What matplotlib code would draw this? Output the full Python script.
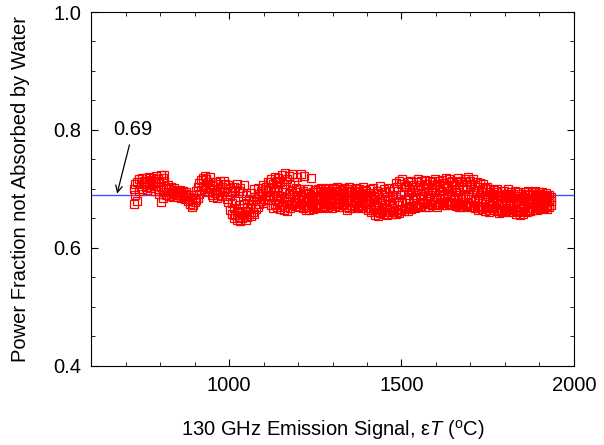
import matplotlib
matplotlib.use("Agg")
import matplotlib.pyplot as plt
from matplotlib.ticker import MultipleLocator, FormatStrFormatter

plt.rcParams['font.family'] = ['Liberation Sans', 'DejaVu Sans']
plt.rcParams['mathtext.fontset'] = 'custom'
plt.rcParams['mathtext.rm'] = 'Liberation Sans'
plt.rcParams['mathtext.it'] = 'Liberation Sans:italic'

# 130 GHz emission signal (deg C) and the power fractions read at each one
signal = [723, 727, 733, 738, 744, 748, 754, 759, 763, 769, 774, 779, 784, 788,
          794, 798, 803, 807, 812, 817, 822, 826, 832, 836, 841, 846, 851, 857,
          861, 866, 872, 876, 881, 886, 891, 895, 900, 905, 910, 914, 919, 924,
          929, 934, 939, 944, 949, 954, 959, 964, 969, 974, 979, 984, 989, 994,
          998, 1003, 1008, 1013, 1018, 1023, 1028, 1033, 1038, 1043, 1048, 1053,
          1058, 1063, 1068, 1073, 1078, 1083, 1088, 1093, 1098, 1103, 1108, 1113,
          1118, 1123, 1128, 1133, 1138, 1143, 1148, 1153, 1158, 1163, 1168, 1173,
          1178, 1183, 1188, 1193, 1198, 1203, 1208, 1213, 1218, 1223, 1228, 1233,
          1238, 1243, 1248, 1253, 1258, 1263, 1268, 1273, 1278, 1283, 1288, 1293,
          1298, 1303, 1308, 1313, 1318, 1323, 1328, 1333, 1338, 1343, 1348, 1353,
          1358, 1363, 1368, 1373, 1378, 1383, 1388, 1393, 1398, 1403, 1408, 1413,
          1418, 1423, 1428, 1433, 1438, 1443, 1448, 1453, 1458, 1463, 1468, 1473,
          1478, 1483, 1488, 1493, 1498, 1503, 1508, 1513, 1518, 1523, 1528, 1533,
          1538, 1543, 1548, 1553, 1558, 1563, 1568, 1573, 1578, 1583, 1588, 1593,
          1598, 1603, 1608, 1613, 1618, 1623, 1628, 1633, 1638, 1643, 1648, 1653,
          1658, 1663, 1668, 1673, 1678, 1683, 1688, 1693, 1698, 1703, 1708, 1713,
          1718, 1723, 1728, 1733, 1738, 1743, 1748, 1753, 1758, 1763, 1768, 1773,
          1778, 1783, 1788, 1793, 1798, 1803, 1808, 1813, 1818, 1823, 1828, 1833,
          1838, 1843, 1848, 1853, 1858, 1863, 1868, 1873, 1878, 1883, 1888, 1893,
          1898, 1903, 1908, 1913, 1918, 1923, 1928, 1933]
fraction = [
    [0.674, 0.700], [0.690, 0.708], [0.680, 0.712], [0.697, 0.716],
    [0.705, 0.712], [0.700, 0.718], [0.709, 0.714], [0.703, 0.719],
    [0.698, 0.711], [0.706, 0.721], [0.701, 0.715], [0.709, 0.718],
    [0.697, 0.713], [0.705, 0.722], [0.700, 0.716], [0.692, 0.711],
    [0.678, 0.704, 0.724], [0.684, 0.699, 0.718], [0.695, 0.713, 0.724],
    [0.690, 0.702], [0.694, 0.706], [0.688, 0.699], [0.692, 0.703],
    [0.687, 0.698], [0.693, 0.701], [0.689, 0.697], [0.686, 0.695],
    [0.690, 0.698], [0.684, 0.693], [0.688, 0.696], [0.683, 0.692],
    [0.686, 0.694], [0.679, 0.690], [0.674, 0.686], [0.669, 0.681],
    [0.673, 0.690], [0.677, 0.685], [0.681, 0.696], [0.685, 0.703],
    [0.692, 0.710], [0.698, 0.715], [0.704, 0.719], [0.700, 0.722],
    [0.707, 0.716], [0.695, 0.712], [0.701, 0.720], [0.690, 0.708],
    [0.686, 0.705], [0.693, 0.711], [0.684, 0.700], [0.690, 0.708],
    [0.697, 0.713], [0.688, 0.704], [0.694, 0.714], [0.700, 0.709],
    [0.683, 0.697], [0.678, 0.706],
    [0.664, 0.688, 0.702], [0.657, 0.676, 0.695], [0.650, 0.668, 0.703],
    [0.655, 0.680, 0.698], [0.647, 0.663, 0.708], [0.652, 0.672, 0.696],
    [0.645, 0.660, 0.702], [0.650, 0.667, 0.693], [0.656, 0.675, 0.706],
    [0.648, 0.662, 0.690], [0.653, 0.670], [0.658, 0.682],
    [0.654, 0.674, 0.693], [0.661, 0.680], [0.658, 0.687, 0.699],
    [0.666, 0.683], [0.670, 0.692, 0.702], [0.675, 0.688], [0.680, 0.697],
    [0.676, 0.693, 0.706], [0.683, 0.699], [0.688, 0.704],
    [0.681, 0.697, 0.711], [0.690, 0.712], [0.672, 0.702, 0.716],
    [0.668, 0.686, 0.709], [0.675, 0.697, 0.721], [0.670, 0.690, 0.714],
    [0.679, 0.704, 0.719], [0.666, 0.688, 0.712], [0.673, 0.695, 0.724],
    [0.664, 0.684, 0.708], [0.670, 0.699, 0.727], [0.662, 0.680, 0.716],
    [0.675, 0.692, 0.722], [0.668, 0.686, 0.707], [0.673, 0.697, 0.726],
    [0.678, 0.690, 0.712], [0.671, 0.686, 0.701], [0.676, 0.694, 0.720],
    [0.669, 0.683, 0.699], [0.674, 0.690, 0.726], [0.667, 0.681, 0.696],
    [0.672, 0.687, 0.722], [0.665, 0.679, 0.693], [0.670, 0.684, 0.699],
    [0.664, 0.677, 0.691], [0.669, 0.688, 0.718], [0.666, 0.680, 0.695],
    [0.671, 0.685, 0.698],
    [0.668, 0.681, 0.694], [0.673, 0.687, 0.699], [0.669, 0.683, 0.696],
    [0.674, 0.689, 0.701], [0.667, 0.680, 0.693], [0.671, 0.686, 0.700],
    [0.675, 0.684, 0.697], [0.669, 0.690, 0.702], [0.672, 0.682, 0.695],
    [0.668, 0.687, 0.699], [0.676, 0.689, 0.701], [0.671, 0.684, 0.696],
    [0.674, 0.688, 0.703], [0.669, 0.681, 0.694], [0.677, 0.691, 0.700],
    [0.672, 0.685, 0.698], [0.675, 0.688, 0.702], [0.670, 0.683, 0.695],
    [0.665, 0.679, 0.699], [0.668, 0.686, 0.703], [0.673, 0.682, 0.696],
    [0.667, 0.689, 0.700], [0.671, 0.684, 0.697], [0.676, 0.690, 0.701],
    [0.669, 0.681, 0.694], [0.673, 0.687, 0.699], [0.667, 0.679, 0.692],
    [0.671, 0.685, 0.703], [0.675, 0.688, 0.698], [0.668, 0.682, 0.696],
    [0.664, 0.679, 0.693], [0.668, 0.685, 0.699], [0.660, 0.674, 0.690],
    [0.665, 0.681, 0.702], [0.656, 0.671, 0.687], [0.661, 0.677, 0.697],
    [0.654, 0.669, 0.693], [0.659, 0.683, 0.705], [0.663, 0.676, 0.690],
    [0.657, 0.672, 0.700], [0.661, 0.680, 0.694], [0.655, 0.668, 0.686],
    [0.660, 0.675, 0.702], [0.664, 0.682, 0.696], [0.658, 0.671, 0.689],
    [0.663, 0.677, 0.699], [0.657, 0.686, 0.710], [0.661, 0.673, 0.704],
    [0.659, 0.680, 0.713], [0.664, 0.690, 0.708], [0.666, 0.678, 0.716],
    [0.662, 0.694, 0.709], [0.668, 0.682, 0.705], [0.663, 0.689, 0.712],
    [0.669, 0.685, 0.700], [0.666, 0.694, 0.714], [0.671, 0.681, 0.706],
    [0.667, 0.690, 0.703], [0.672, 0.686, 0.711], [0.669, 0.698, 0.716],
    [0.675, 0.684, 0.707], [0.671, 0.692, 0.713], [0.676, 0.688, 0.702],
    [0.670, 0.697, 0.715], [0.674, 0.685, 0.709], [0.669, 0.693, 0.704],
    [0.675, 0.689, 0.714], [0.672, 0.699, 0.711], [0.677, 0.687, 0.706],
    [0.673, 0.694, 0.716], [0.670, 0.685, 0.709], [0.674, 0.698, 0.713],
    [0.678, 0.690, 0.705], [0.672, 0.696, 0.715], [0.676, 0.688, 0.710],
    [0.673, 0.701, 0.718], [0.679, 0.692, 0.707], [0.675, 0.697, 0.716],
    [0.677, 0.689, 0.711], [0.672, 0.700, 0.714], [0.676, 0.686, 0.706],
    [0.671, 0.694, 0.712], [0.675, 0.690, 0.718], [0.670, 0.698, 0.709],
    [0.673, 0.685, 0.713], [0.669, 0.692, 0.704], [0.674, 0.688, 0.716],
    [0.671, 0.699, 0.711], [0.676, 0.691, 0.721], [0.672, 0.703, 0.714],
    [0.669, 0.686, 0.709], [0.673, 0.696, 0.717], [0.667, 0.682, 0.707],
    [0.671, 0.693, 0.712], [0.665, 0.679, 0.703], [0.669, 0.690, 0.710],
    [0.666, 0.684, 0.699], [0.670, 0.694, 0.708], [0.663, 0.677, 0.701],
    [0.667, 0.688, 0.704], [0.661, 0.674, 0.695], [0.665, 0.684, 0.700],
    [0.668, 0.679, 0.692], [0.664, 0.687, 0.698], [0.667, 0.676, 0.694],
    [0.662, 0.683, 0.699], [0.659, 0.672, 0.690], [0.664, 0.680, 0.697],
    [0.661, 0.676, 0.688], [0.666, 0.684, 0.696], [0.663, 0.678, 0.692],
    [0.667, 0.687, 0.699], [0.660, 0.673, 0.689], [0.664, 0.681, 0.695],
    [0.661, 0.676, 0.692], [0.665, 0.684, 0.697], [0.657, 0.671, 0.688],
    [0.662, 0.679, 0.694], [0.655, 0.668, 0.685], [0.660, 0.676, 0.692],
    [0.658, 0.672, 0.687], [0.663, 0.681, 0.694], [0.661, 0.675, 0.690],
    [0.665, 0.683, 0.697], [0.663, 0.677, 0.692], [0.667, 0.685, 0.695],
    [0.664, 0.679, 0.690], [0.668, 0.684, 0.697], [0.665, 0.677, 0.692],
    [0.669, 0.686, 0.695], [0.666, 0.680, 0.691], [0.670, 0.683, 0.694],
    [0.667, 0.678, 0.689], [0.671, 0.684, 0.693], [0.666, 0.677, 0.688],
    [0.669, 0.681, 0.690], [0.672, 0.679, 0.687]]
mean_fraction = 0.69

xs, ys = [], []
for s, col in zip(signal, fraction):
    for f in col:
        xs.append(s)
        ys.append(f)

fig = plt.figure(figsize=(6.04, 4.45), dpi=100)
ax = fig.add_axes([0.151, 0.178, 0.799, 0.795])

ax.axhline(mean_fraction, color='#4d4dff', linewidth=1.0, zorder=1)
ax.plot(xs, ys, linestyle='none', marker='s', markersize=6,
        markerfacecolor='none', markeredgecolor='red', markeredgewidth=0.9, zorder=2)

ax.annotate('0.69', xy=(675, 0.692), xytext=(722, 0.80), fontsize=14.5,
            ha='center', va='center',
            arrowprops=dict(arrowstyle='->', color='black', lw=0.9,
                            shrinkA=2, shrinkB=0, mutation_scale=12))

ax.set_xlim(600, 2000)
ax.set_ylim(0.4, 1.0)
ax.xaxis.set_major_locator(MultipleLocator(500))
ax.xaxis.set_minor_locator(MultipleLocator(100))
ax.yaxis.set_major_locator(MultipleLocator(0.2))
ax.yaxis.set_minor_locator(MultipleLocator(0.05))
ax.yaxis.set_major_formatter(FormatStrFormatter('%.1f'))
ax.tick_params(which='both', direction='in', top=True, right=True, labelsize=14.5, pad=7)
ax.tick_params(which='major', length=5)
ax.tick_params(which='minor', length=3)

ax.set_xlabel('130 GHz Emission Signal, ε$T$ ($^{\\mathrm{o}}$C)', fontsize=14.5, labelpad=17)
ax.set_ylabel('Power Fraction not Absorbed by Water', fontsize=14.5, labelpad=17)

fig.savefig('out.png', dpi=100)
